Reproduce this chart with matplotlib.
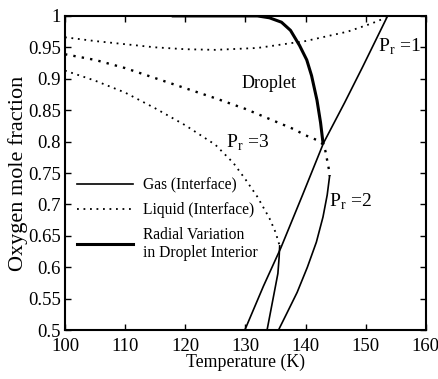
import matplotlib
matplotlib.use('Agg')
import matplotlib.pyplot as plt
import numpy as np

# gas side (interface) curves, one per reduced pressure
gas1_T = [129.9, 133.0, 135.9, 139.5, 143.0, 146.5, 149.5, 153.65]
gas1_x = [0.5, 0.57, 0.631, 0.715, 0.798, 0.862, 0.919, 1.0]
gas2_T = [135.5, 136.9, 138.6, 140.3, 141.8, 142.9, 143.6, 144.0]
gas2_x = [0.5, 0.527, 0.56, 0.6, 0.64, 0.68, 0.715, 0.745]
gas3_T = [133.6, 134.6, 135.4, 135.6, 135.7]
gas3_x = [0.5, 0.55, 0.59, 0.615, 0.634]

# liquid side (interface) curves
liq1_T = [100, 105, 110, 115, 120, 125, 132, 140, 147, 151, 153.3]
liq1_x = [0.966, 0.96, 0.955, 0.95, 0.947, 0.946, 0.949, 0.96, 0.975, 0.988, 0.997]
liq2_T = [100, 105, 110, 115, 120, 125, 130, 135, 138, 140, 142, 143, 143.3, 143.6, 143.9, 144.0]
liq2_x = [0.939, 0.93, 0.917, 0.901, 0.885, 0.869, 0.852, 0.832, 0.82, 0.81, 0.802, 0.795,
          0.785, 0.77, 0.755, 0.745]
liq3_T = [100, 105, 110, 115, 120, 125, 128, 130, 132, 134, 135, 135.7]
liq3_x = [0.913, 0.897, 0.878, 0.853, 0.826, 0.795, 0.766, 0.74, 0.712, 0.678, 0.656, 0.634]

# radial variation inside the droplet
rad_T = [118, 132, 134, 136, 137.5, 139, 140.2, 141, 141.9, 142.5, 142.9]
rad_x = [1.0, 1.0, 0.997, 0.99, 0.977, 0.953, 0.93, 0.905, 0.866, 0.83, 0.798]

xticks = [100, 110, 120, 130, 140, 150, 160]
yticks = [0.5, 0.55, 0.6, 0.65, 0.7, 0.75, 0.8, 0.85, 0.9, 0.95, 1.0]
ytick_labels = ['0.5', '0.55', '0.6', '0.65', '0.7', '0.75', '0.8', '0.85', '0.9', '0.95', '1']

plt.rcParams['font.family'] = ['Liberation Serif', 'DejaVu Serif']
plt.rcParams['font.size'] = 12

fig = plt.figure(figsize=(4.39, 3.79), dpi=100)
ax = fig.add_axes([0.148, 0.129, 0.822, 0.829])

dot = (0, (1, 2.6))
ax.plot(gas1_T, gas1_x, color='black', lw=1.2, label='Gas (Interface)')
ax.plot(gas2_T, gas2_x, color='black', lw=1.2)
ax.plot(gas3_T, gas3_x, color='black', lw=1.2)
ax.plot(liq1_T, liq1_x, color='black', lw=1.3, ls=dot, label='Liquid (Interface)')
ax.plot(liq2_T, liq2_x, color='black', lw=1.7, ls=dot)
ax.plot(liq3_T, liq3_x, color='black', lw=1.3, ls=dot)
ax.plot(rad_T, rad_x, color='black', lw=2.2, label='Radial Variation\nin Droplet Interior')

ax.text(134, 0.893, 'Droplet', ha='center', va='center', fontsize=13)
ax.text(130.4, 0.798, r'P$_\mathregular{r}$ =3', ha='center', va='center', fontsize=14)
ax.text(155.6, 0.951, r'P$_\mathregular{r}$ =1', ha='center', va='center', fontsize=14)
ax.text(147.5, 0.704, r'P$_\mathregular{r}$ =2', ha='center', va='center', fontsize=14)

leg = ax.legend(loc='upper left', bbox_to_anchor=(-0.005, 0.53), frameon=False,
                handlelength=3.6, handletextpad=0.6, labelspacing=0.55, fontsize=11.2)

ax.set_xlim(100, 160)
ax.set_ylim(0.5, 1.0)
ax.set_xticks(xticks)
ax.set_yticks(yticks)
ax.set_yticklabels(ytick_labels)
ax.tick_params(axis='both', direction='in', top=True, right=True, length=4, width=1, labelsize=13.5)
ax.tick_params(axis='x', pad=6)
ax.tick_params(axis='y', pad=3)
for s in ax.spines.values():
    s.set_linewidth(1.5)

ax.set_xlabel('Temperature (K)', fontsize=12.8, labelpad=-1)
ax.set_ylabel('Oxygen mole fraction', fontsize=16, labelpad=0)

fig.savefig('out.png', dpi=100)
